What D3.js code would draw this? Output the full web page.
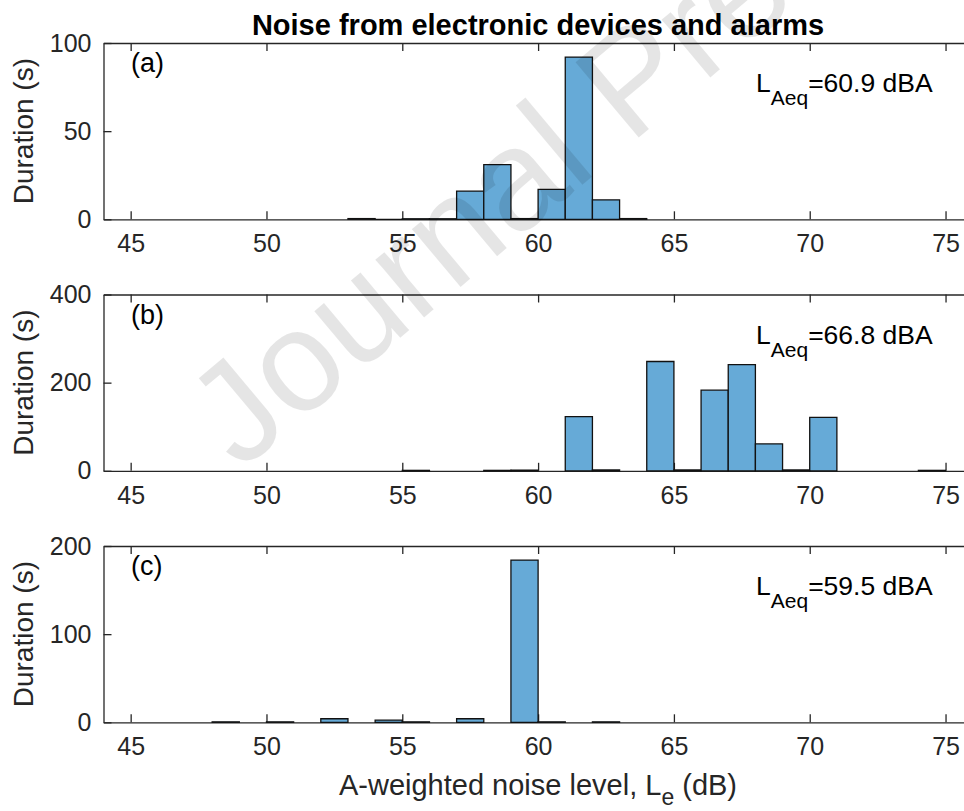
<!DOCTYPE html>
<html>
<head>
<meta charset="utf-8">
<script src="https://cdn.jsdelivr.net/npm/d3@7"></script>
<style>
  body { margin: 0; background: #fff; }
  .tick text { font-family: 'Liberation Sans', Arial, sans-serif; }
</style>
</head>
<body>
<svg width="964" height="811"></svg>
<script>
// histogram bins (left edge, dB) and durations (s), one pair per panel
var binsA = [53, 54, 55, 56, 57, 58, 59, 60, 61, 62, 63];
var durA  = [0.4, 0, 0.3, 0.3, 16, 31, 0.4, 17, 92, 11, 0.4];

var binsB = [55, 58, 59, 61, 62, 64, 65, 66, 67, 68, 69, 70, 74];
var durB  = [1, 1, 1.5, 123, 2, 248, 2, 183, 241, 61, 2, 121, 1];

var binsC = [48, 50, 52, 54, 55, 57, 59, 60, 62];
var durC  = [0.5, 0.5, 4, 2.5, 0.5, 4, 184, 0.5, 0.5];

var xTicks = [45, 50, 55, 60, 65, 70, 75];
var yTicksA = [0, 50, 100];
var yTicksB = [0, 200, 400];
var yTicksC = [0, 100, 200];

var panelLabels = ["(a)", "(b)", "(c)"];
var laeq = ["60.9", "66.8", "59.5"];

var panels = [
  { bins: binsA, dur: durA, ticks: yTicksA },
  { bins: binsB, dur: durB, ticks: yTicksB },
  { bins: binsC, dur: durC, ticks: yTicksC }
];

var font = "'Liberation Sans', Arial, Helvetica, sans-serif";
var axisColor = "#262626";

var svg = d3.select("svg");

var x = d3.scaleLinear()
    .domain([44, 76])
    .range([103.5, 972.7]);

var panelH = 176.3,
    tops = [43, 294.5, 546];

panels.forEach(function(p, i) {
  var top = tops[i], bottom = top + panelH;
  var y = d3.scaleLinear()
      .domain([0, d3.max(p.ticks)])
      .range([bottom, top]);

  var g = svg.append("g").attr("class", "panel");

  // box and inward ticks
  g.append("g")
      .attr("transform", "translate(0," + bottom + ")")
      .call(d3.axisBottom(x).tickValues(xTicks).tickSize(-8).tickSizeOuter(0).tickPadding(15));
  g.append("g")
      .attr("transform", "translate(0," + top + ")")
      .call(d3.axisTop(x).tickValues(xTicks).tickSize(-8).tickSizeOuter(0).tickFormat(""));
  g.append("g")
      .attr("transform", "translate(" + x(44) + ",0)")
      .call(d3.axisLeft(y).tickValues(p.ticks).tickSize(-8).tickSizeOuter(0).tickPadding(12));
  g.append("g")
      .attr("transform", "translate(" + x(76) + ",0)")
      .call(d3.axisRight(y).tickValues(p.ticks).tickSize(-8).tickSizeOuter(0).tickFormat(""));

  g.selectAll(".domain, .tick line")
      .attr("stroke", axisColor)
      .attr("stroke-width", 1.3);
  g.selectAll(".tick text")
      .attr("fill", axisColor)
      .attr("font-size", 25);

  // bars (paths so that empty bins still draw their edge)
  g.selectAll("path.bar")
    .data(p.bins)
    .enter().append("path")
      .attr("class", "bar")
      .attr("d", function(d, j) {
        var x0 = x(d), x1 = x(d + 1), y0 = y(0), y1 = y(p.dur[j]);
        return "M" + x0 + "," + y0 + "V" + y1 + "H" + x1 + "V" + y0 + "Z";
      })
      .attr("fill", "#66aad7")
      .attr("stroke", "#111")
      .attr("stroke-width", 1.3);

  // panel letter
  g.append("text")
      .attr("x", 131)
      .attr("y", top + 29)
      .attr("font-family", font)
      .attr("font-size", 27)
      .attr("fill", "#000")
      .text(panelLabels[i]);

  // L_Aeq annotation
  var t = g.append("text")
      .attr("x", 756)
      .attr("y", top + 49)
      .attr("font-family", font)
      .attr("font-size", 26.5)
      .attr("fill", "#000");
  t.append("tspan").text("L");
  t.append("tspan").attr("dy", 13).attr("font-size", 21).text("Aeq");
  t.append("tspan").attr("dy", -13).text("=" + laeq[i] + " dBA");

  // y label
  svg.append("text")
      .attr("transform", "translate(33," + (top + panelH / 2) + ") rotate(-90)")
      .attr("text-anchor", "middle")
      .attr("font-family", font)
      .attr("font-size", 28)
      .attr("fill", axisColor)
      .text("Duration (s)");
});

// title
svg.append("text")
    .attr("x", 538)
    .attr("y", 35)
    .attr("text-anchor", "middle")
    .attr("font-family", font)
    .attr("font-size", 29)
    .attr("font-weight", "bold")
    .attr("fill", "#000")
    .text("Noise from electronic devices and alarms");

// x label
var xl = svg.append("text")
    .attr("x", 538)
    .attr("y", 795)
    .attr("text-anchor", "middle")
    .attr("font-family", font)
    .attr("font-size", 29)
    .attr("fill", axisColor);
xl.append("tspan").text("A-weighted noise level, L");
xl.append("tspan").attr("dy", 10).attr("font-size", 23).text("e");
xl.append("tspan").attr("dy", -10).text(" (dB)");

// watermark
svg.append("text")
    .attr("transform", "translate(240,472) rotate(-40)")
    .attr("font-family", font)
    .attr("font-size", 143)
    .attr("fill", "#000")
    .attr("fill-opacity", 0.1)
    .text("Journal Pre-proof");
</script>
</body>
</html>
